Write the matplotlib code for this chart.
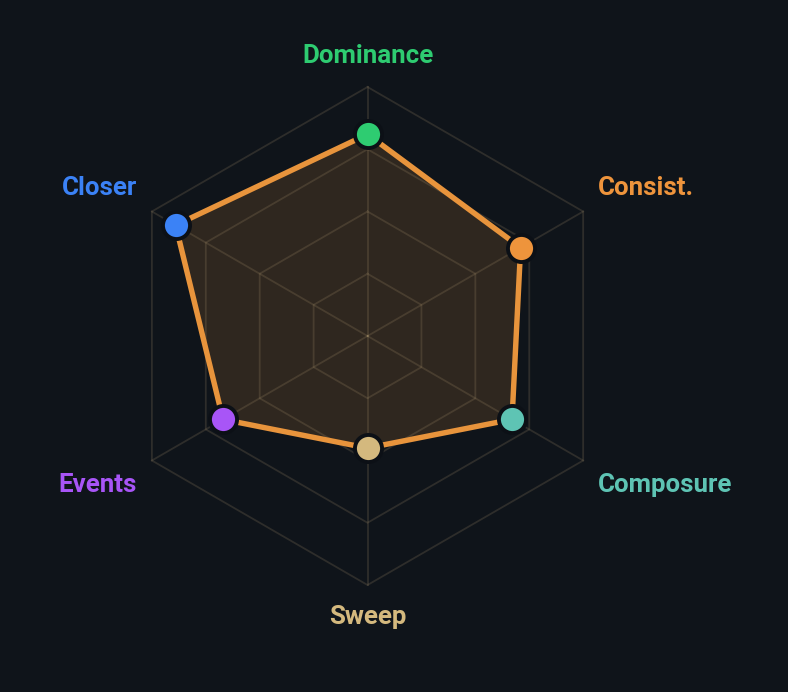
import numpy as np
import matplotlib
matplotlib.use("Agg")
import matplotlib.pyplot as plt

BG = "#0f141a"
LINE = "#e8943c"

labels = ["Dominance", "Consist.", "Composure", "Sweep", "Events", "Closer"]
values = [81, 71, 67, 45, 67, 89]
colors = ["#2ecc71", "#ee943c", "#5ec4b4", "#d4b97e", "#a855f7", "#3b82f6"]
rings = [25, 50, 75, 100]
# label offsets from the outer vertex, in pixels (dx, dy, ha)
offs = [(0, 24, "center"), (15, 16, "left"), (15, -31, "left"),
        (0, -39, "center"), (-15, -31, "right"), (-15, 16, "right")]

n = len(labels)
ang = np.arange(n) * 2 * np.pi / n
ang_c = np.append(ang, ang[0])

fig = plt.figure(figsize=(7.88, 6.92), dpi=100, facecolor=BG)
ax = fig.add_axes([0.1504, 0.1546, 0.632, 0.7197], projection="polar")
ax.set_theta_zero_location("N")
ax.set_theta_direction(-1)
ax.set_ylim(0, 100)
ax.set_axis_off()

# data fill first, grid over it
vc = np.append(values, values[0])
ax.fill(ang_c, vc, color=LINE, alpha=0.15, lw=0, zorder=1)

gcol = (0.78, 0.68, 0.50, 0.17)
for r in rings:
    ax.plot(ang_c, [r] * (n + 1), color=gcol, lw=1.3, clip_on=False, zorder=2)
for a in ang:
    ax.plot([a, a], [0, rings[-1]], color=gcol, lw=1.3, clip_on=False, zorder=2)

ax.plot(ang_c, vc, color=LINE, lw=3.9, solid_joinstyle="round", zorder=3, clip_on=False)
for a, v, c in zip(ang, values, colors):
    ax.plot([a], [v], "o", ms=19.5, mfc=c, mec="#0c1016", mew=2.8, zorder=4, clip_on=False)

for a, lab, c, (dx, dy, ha) in zip(ang, labels, colors, offs):
    ax.annotate(lab, xy=(a, rings[-1]), xytext=(dx, dy), textcoords="offset pixels",
                ha=ha, va="baseline", color=c, fontsize=18.6, fontweight="bold",
                family="Roboto", annotation_clip=False)

fig.savefig("out.png", dpi=100, facecolor=BG)
